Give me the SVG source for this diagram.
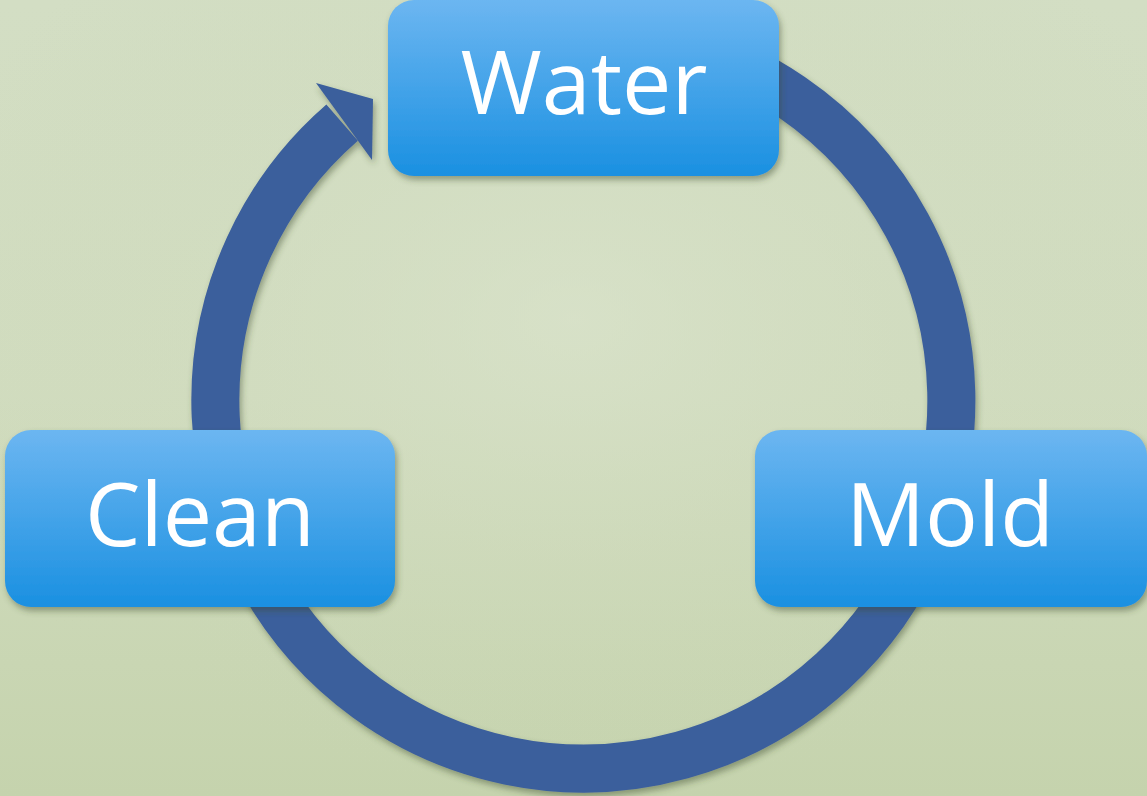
<svg xmlns="http://www.w3.org/2000/svg" width="1147" height="796" viewBox="0 0 1147 796">
<style>
.box{fill:url(#boxGrad);filter:url(#shadow)}
.label{font-family:"Open Sans","DejaVu Sans",sans-serif;font-size:88px;fill:#ffffff;text-anchor:middle}
.ring{fill:none;stroke:#3b5e9c;stroke-width:48}
</style>
<defs>
<linearGradient id="bgGrad" x1="0" y1="0" x2="0" y2="1">
<stop offset="0" stop-color="#d3dec4"/>
<stop offset="0.5" stop-color="#d1dcbf"/>
<stop offset="1" stop-color="#c5d3ad"/>
</linearGradient>
<radialGradient id="bgGlow" cx="0.5" cy="0.4" r="0.6">
<stop offset="0" stop-color="#dbe4cd" stop-opacity="0.6"/>
<stop offset="1" stop-color="#c8d5b2" stop-opacity="0"/>
</radialGradient>
<linearGradient id="boxGrad" x1="0" y1="0" x2="0" y2="1">
<stop offset="0" stop-color="#6cb6f1"/>
<stop offset="1" stop-color="#1a90e1"/>
</linearGradient>
<filter id="shadow" x="-10%" y="-10%" width="130%" height="130%">
<feDropShadow dx="2" dy="4" stdDeviation="3" flood-color="#3a4a2a" flood-opacity="0.45"/>
</filter>
</defs>
<rect width="1147" height="796" fill="url(#bgGrad)"/>
<rect width="1147" height="796" fill="url(#bgGlow)"/>
<g id="connectors" filter="url(#shadow)">
<path class="ring" d="M647.4,38.1 A368,368 0 1 1 342.1,122.6"/>
<polygon points="316,83 373,99 372,160" fill="#3b5e9c"/>
</g>
<g id="node-water">
<rect class="box" x="388" y="0" width="391" height="176" rx="26"/>
<text class="label" x="584" y="114">Water</text>
</g>
<g id="node-mold">
<rect class="box" x="755" y="430" width="392" height="177" rx="26"/>
<text class="label" x="950" y="546">Mold</text>
</g>
<g id="node-clean">
<rect class="box" x="5" y="430" width="390" height="177" rx="26"/>
<text class="label" x="200" y="546">Clean</text>
</g>
</svg>
